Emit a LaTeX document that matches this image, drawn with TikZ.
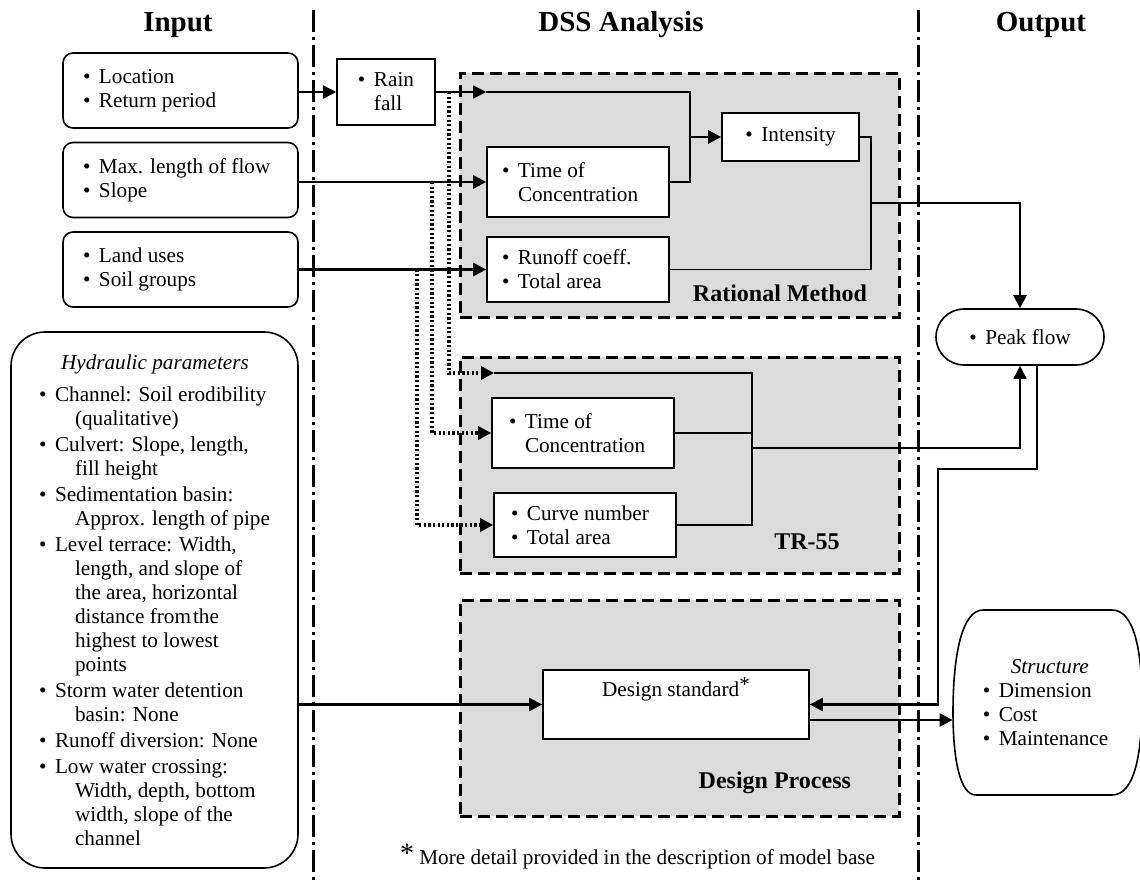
\documentclass[tikz,border=0pt]{standalone}
\usepackage{fontspec}
\setmainfont{Liberation Serif}
\usetikzlibrary{arrows.meta}
\definecolor{panel}{gray}{0.86}

\newcommand\bul{\makebox[8pt][l]{\textbullet}}
\newcommand\ind{\hspace*{8pt}}
\newcommand\cont{\hspace*{18pt}}

\begin{document}
\begin{tikzpicture}[x=0.5pt,y=-0.5pt,
	font=\fontsize{10.6}{12}\selectfont,
	>={Triangle[length=6.5pt,width=6.5pt]},
	inbox/.style={draw,line width=0.8pt,rounded corners=5pt,minimum width=117.5pt,minimum height=37.5pt,text width=97.5pt,inner xsep=10pt,align=flush left},
	box/.style={draw,line width=0.8pt,fill=white,align=flush left},
	group/.style={draw,line width=1.5pt,dash pattern=on 6pt off 3pt,fill=panel},
	grouplabel/.style={font=\fontsize{12}{14}\selectfont\bfseries},
	heading/.style={font=\fontsize{14.5}{16}\selectfont\bfseries},
	divider/.style={line width=1.5pt,dash pattern=on 11pt off 2.5pt on 1.5pt off 2.5pt},
	dotline/.style={line width=1.6pt,dash pattern=on 1.1pt off 1.2pt},
	link/.style={line width=0.8pt},
	heavy/.style={line width=1.3pt}]
	\useasboundingbox (0,0) rectangle (1140,884);

	\node[heading] (tin) at (178,25) {Input};
	\node[heading] (tdss) at (621,25) {DSS Analysis};
	\node[heading] (tout) at (1041,25) {Output};
	\draw[divider] (313,10) -- (313,884);
	\draw[divider] (918,10) -- (918,884);

	\node[group,minimum width=219.5pt,minimum height=122pt] (rmgrp) at (679.5,195) {};
	\node[group,minimum width=219.5pt,minimum height=108pt] (trgrp) at (679.5,465) {};
	\node[group,minimum width=219.5pt,minimum height=108pt] (dpgrp) at (679.5,708) {};
	\node[grouplabel,anchor=east] (rmlab) at (874,293) {Rational Method};
	\node[grouplabel] (trlab) at (807,542) {TR-55};
	\node[grouplabel,anchor=east] (dplab) at (858,783) {Design Process};

	\node[inbox] (loc) at (180.5,90.5) {\bul Location\\\bul Return period};
	\node[inbox] (flow) at (180.5,180) {\bul Max. length of flow\\\bul Slope};
	\node[inbox] (land) at (180.5,269.5) {\bul Land uses\\\bul Soil groups};
	\node[draw,line width=0.8pt,rounded corners=17pt,minimum width=143.5pt,minimum height=268pt,align=flush left] (hyd) at (154.5,600) {\hspace*{11pt}\textit{Hydraulic parameters}\\[4pt]
		\bul Channel: Soil erodibility\\
		\cont(qualitative)\\[1pt]
		\bul Culvert: Slope, length,\\
		\cont fill height\\[1pt]
		\bul Sedimentation basin:\\
		\cont Approx. length of pipe\\[1pt]
		\bul Level terrace: Width,\\
		\cont length, and slope of\\
		\cont the area, horizontal\\
		\cont distance from\hspace{1pt}the\\
		\cont highest to lowest\\
		\cont points\\[1pt]
		\bul Storm water detention\\
		\cont basin: None\\[1pt]
		\bul Runoff diversion: None\\[1pt]
		\bul Low water crossing:\\
		\cont Width, depth, bottom\\
		\cont width, slope of the\\
		\cont channel};

	\node[box,minimum width=49pt,minimum height=33pt] (rain) at (386,92) {\bul Rain\\\ind fall};
	\node[box,minimum width=91pt,minimum height=35pt,text width=76pt] (rmtoc) at (578,182) {\bul Time of\\\ind Concentration};
	\node[box,minimum width=91pt,minimum height=32.5pt,text width=76pt] (rmrun) at (578,269.5) {\bul Runoff coeff.\\\bul Total area};
	\node[box,minimum width=68.5pt,minimum height=24pt] (inten) at (790.5,137) {\bul Intensity};
	\node[box,minimum width=91pt,minimum height=35pt,text width=74pt] (trtoc) at (583,433) {\bul Time of\\\ind Concentration};
	\node[box,minimum width=91pt,minimum height=32pt,text width=74pt] (trcn) at (585,525) {\bul Curve number\\\bul Total area};
	\node[box,minimum width=133pt,minimum height=34.5pt,align=center] (design) at (676,704.5) {\smash{\raisebox{4pt}{Design standard\raisebox{2.5pt}{*}}}};
	\node[box,rounded corners=14pt,minimum width=84pt,minimum height=28pt] (peak) at (1020,337) {\bul Peak flow};
	\node[minimum width=92.5pt,minimum height=92.5pt,align=flush left] (struct) at (1045.5,702.5) {\hspace*{14pt}\textit{Structure}\\\bul Dimension\\\bul Cost\\\bul Maintenance};
	\draw[link] (983,610) -- (1112,610) .. controls (1134,610) and (1142,650) .. (1142,702) .. controls (1142,756) and (1134,795) .. (1112,795) -- (976,795) .. controls (960,795) and (953,760) .. (953,712) .. controls (953,655) and (962,610) .. (983,610);
	\node[anchor=west] (note) at (393,857) {\raisebox{1pt}{\fontsize{14}{14}\selectfont*} More detail provided in the description of model base};

	\coordinate (rt) at (rmtoc.west |- rain.east);
	\coordinate (jr) at (690,137);
	\coordinate (jo) at (871,203);
	\coordinate (tt) at (494,373);
	\coordinate (jt) at (752,448);
	\coordinate (d1) at (449,92);
	\coordinate (d2) at (432,182);
	\coordinate (d3) at (417,269.5);
	\coordinate (pb) at ([xshift=8.5pt]peak.south);
	\coordinate (dout) at ([yshift=-7.75pt]design.east);

	\draw[link,->] (loc.east |- rain) -- (rain.west);
	\draw[link,->] (rain.east) -- (rt);
	\draw[link] (rt) -| (jr);
	\draw[link] (rmtoc.east) -| (jr);
	\draw[heavy,->] (jr) -- (inten.west);
	\draw[heavy,->] (flow.east |- rmtoc.west) -- (rmtoc.west);
	\draw[heavy,->] (land.east) -- (rmrun.west);
	\draw[link] (inten.east) -| (jo);
	\draw[link] (rmrun.east) -| (jo);
	\draw[heavy,->] (jo) -| (peak.north);

	\draw[dotline,->] (d1) |- (tt);
	\draw[dotline,->] (d2) |- (trtoc.west);
	\draw[dotline,->] (d3) |- (trcn.west);
	\draw[link] (tt) -- (tt -| jt) -- (jt |- trcn.east) -- (trcn.east);
	\draw[link] (trtoc.east) -- (trtoc.east -| jt);
	\draw[link,->] (jt) -| (peak.south);

	\draw[heavy,->] (pb) |- (938,469) |- (design.east);
	\draw[heavy,->] (dout) -- (dout -| struct.west);
	\draw[heavy,->] (hyd.east |- design.west) -- (design.west);
\end{tikzpicture}
\end{document}
